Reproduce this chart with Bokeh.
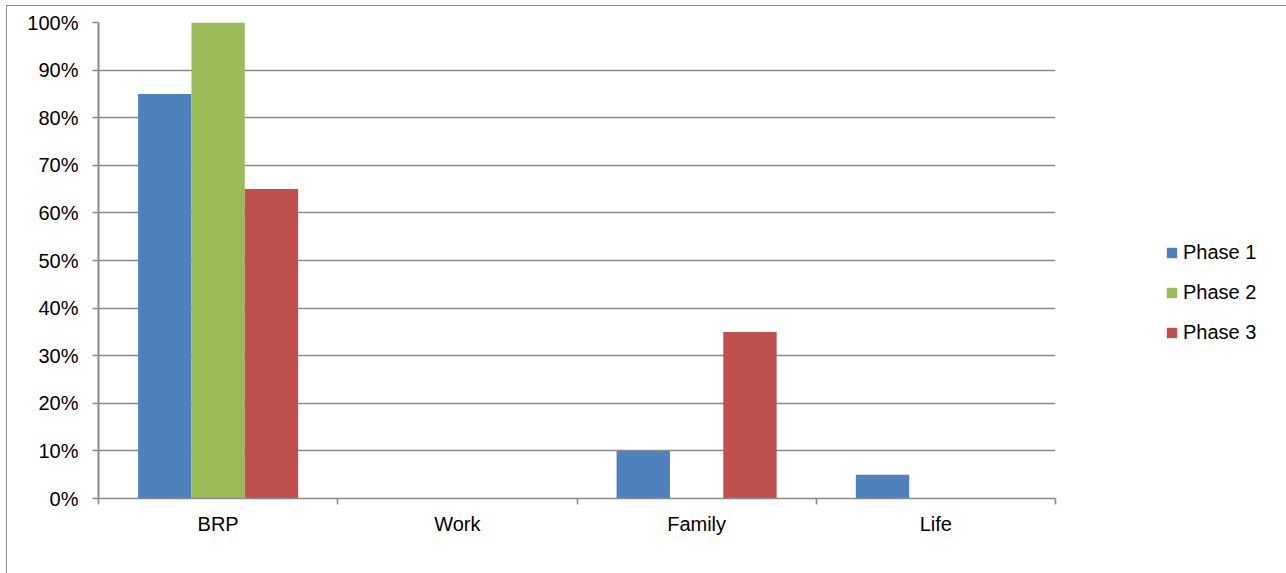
from bokeh.plotting import figure
from bokeh.models import (Range1d, FixedTicker, NumeralTickFormatter, Legend, LegendItem,
                          ColumnDataSource, InlineStyleSheet)
from bokeh.embed import file_html
from bokeh.resources import INLINE

categories = ["BRP", "Work", "Family", "Life"]
series_names = ["Phase 1", "Phase 2", "Phase 3"]
phase1 = [85, 0, 10, 5]
phase2 = [100, 0, 0, 0]
phase3 = [65, 0, 35, 0]
colors = ["#4F81BD", "#9BBB59", "#C0504D"]
y_ticks = [0, 10, 20, 30, 40, 50, 60, 70, 80, 90, 100]

FONT = "Liberation Sans"
FS = "20px"
GRAY = "#8a8a8a"

p = figure(frame_width=957, frame_height=476, output_backend="svg", toolbar_location=None,
           x_range=Range1d(0, len(categories)), y_range=Range1d(0, 1),
           min_border_left=98, min_border_right=0, min_border_top=22, min_border_bottom=75)
p.outline_line_color = None
p.background_fill_color = "white"
p.border_fill_color = "white"

bar_w = 0.223
offsets = [-bar_w, 0, bar_w]
renderers = []
for vals, off, col in zip([phase1, phase2, phase3], offsets, colors):
    src = ColumnDataSource(dict(x=[i + 0.5 + off for i in range(len(categories))],
                                top=[v / 100 for v in vals]))
    r = p.vbar(x="x", top="top", width=bar_w, bottom=0, source=src,
               fill_color=col, line_color=None)
    renderers.append(r)

p.xgrid.visible = False
p.ygrid.ticker = FixedTicker(ticks=[t / 100 for t in y_ticks])
p.ygrid.grid_line_color = GRAY
p.ygrid.grid_line_width = 1.6

p.yaxis.ticker = FixedTicker(ticks=[t / 100 for t in y_ticks])
p.yaxis.formatter = NumeralTickFormatter(format="0%")
p.yaxis.axis_line_color = GRAY
p.yaxis.axis_line_width = 2
p.yaxis.major_tick_line_color = GRAY
p.yaxis.major_tick_line_width = 1.6
p.yaxis.major_tick_out = 6
p.yaxis.major_tick_in = 0
p.yaxis.minor_tick_line_color = None
p.yaxis.major_label_text_font = FONT
p.yaxis.major_label_text_font_size = FS
p.yaxis.major_label_text_color = "black"
p.yaxis.major_label_standoff = 14

p.xaxis.ticker = FixedTicker(ticks=[i + 0.5 for i in range(len(categories))],
                             minor_ticks=list(range(len(categories) + 1)))
p.xaxis.major_label_overrides = {i + 0.5: c for i, c in enumerate(categories)}
p.xaxis.axis_line_color = GRAY
p.xaxis.axis_line_width = 1.6
p.xaxis.major_tick_line_color = None
p.xaxis.major_tick_out = 0
p.xaxis.major_tick_in = 0
p.xaxis.minor_tick_line_color = GRAY
p.xaxis.minor_tick_line_width = 1.6
p.xaxis.minor_tick_out = 6
p.xaxis.minor_tick_in = 0
p.xaxis.major_label_text_font = FONT
p.xaxis.major_label_text_font_size = FS
p.xaxis.major_label_text_color = "black"
p.xaxis.major_label_standoff = 8

legend = Legend(items=[LegendItem(label=n, renderers=[r]) for n, r in zip(series_names, renderers)],
                location=(110, 154), orientation="vertical",
                label_text_font=FONT, label_text_font_size=FS, label_text_color="black",
                glyph_width=13, glyph_height=13, spacing=17, padding=0, margin=0,
                label_standoff=5, label_width=100, border_line_color=None, background_fill_alpha=0)
p.add_layout(legend, "right")

p.stylesheets = [InlineStyleSheet(css=":host{position:relative;} :host::after{content:'';position:absolute;left:6px;top:5px;right:0px;bottom:-20px;border:1.5px solid #8c8c8c;pointer-events:none;}")]

open("out.html", "w").write(file_html(p, INLINE))
